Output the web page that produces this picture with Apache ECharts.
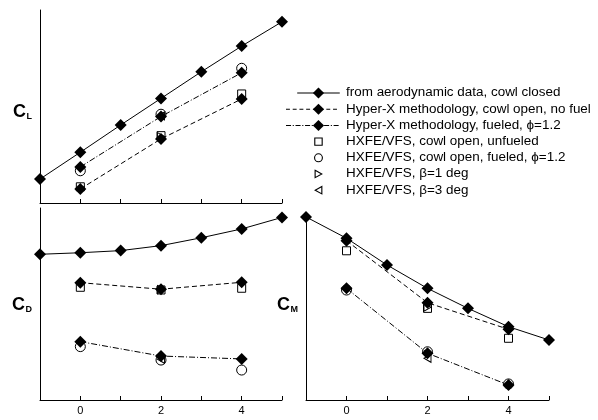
<!DOCTYPE html>
<html>
<head>
<meta charset="utf-8">
<script src="https://cdn.jsdelivr.net/npm/echarts@6/dist/echarts.min.js"></script>
<style>
  html, body { margin: 0; padding: 0; background: #fff; }
  #main { width: 598px; height: 420px; }
</style>
</head>
<body>
<div id="main"></div>
<script>
// angle of attack
var alphaAero = [-1, 0, 1, 2, 3, 4, 5];
var alphaRun = [0, 2, 4];
var alphaBeta = [2];

// lift (arbitrary units, no ticks on the original)
var clAero = [1.24, 2.63, 4.04, 5.42, 6.80, 8.13, 9.39];
var clNoFuel = [0.73, 3.32, 5.39];
var clFueled = [1.87, 4.48, 6.75];
var clHxUnf = [0.84, 3.49, 5.65];
var clHxFuel = [1.67, 4.60, 6.98];
var clBeta1 = [3.44];
var clBeta3 = [4.51];

// drag
var cdAero = [7.59, 7.67, 7.78, 8.04, 8.45, 8.91, 9.51];
var cdNoFuel = [6.11, 5.77, 6.13];
var cdFueled = [3.04, 2.29, 2.14];
var cdHxUnf = [5.87, 5.73, 5.82];
var cdHxFuel = [2.78, 2.08, 1.56];
var cdBeta1 = [5.75];
var cdBeta3 = [2.12];

// pitching moment
var cmAero = [9.79, 8.65, 7.22, 5.97, 4.90, 3.92, 3.21];
var cmNoFuel = [8.52, 5.20, 3.78];
var cmFueled = [5.97, 2.50, 0.80];
var cmHxUnf = [7.98, 4.90, 3.30];
var cmHxFuel = [5.88, 2.58, 0.86];
var cmBeta1 = [4.96];
var cmBeta3 = [2.23];

var legendLabels = [
  'from aerodynamic data, cowl closed',
  'Hyper-X methodology, cowl open, no fuel',
  'Hyper-X methodology, fueled, \u03d5=1.2',
  'HXFE/VFS, cowl open, unfueled',
  'HXFE/VFS, cowl open, fueled, \u03d5=1.2',
  'HXFE/VFS, \u03b2=1 deg',
  'HXFE/VFS, \u03b2=3 deg'
];

var FONT = '"Liberation Sans", Arial, sans-serif';
var DASH = [5, 3];
var DASHDOT = [6, 2, 1, 2];
var TRI_R = 'path://M0,0L10,5L0,10Z';
var TRI_L = 'path://M10,0L0,5L10,10Z';

function pairs(xs, ys) {
  return xs.map(function (x, i) { return [x, ys[i]]; });
}

function lineSeries(idx, xs, ys, dash) {
  return {
    type: 'line', xAxisIndex: idx, yAxisIndex: idx,
    data: pairs(xs, ys),
    symbol: 'diamond', symbolSize: [12, 12],
    clip: false,
    itemStyle: { color: '#000' },
    lineStyle: { color: '#000', width: 1, type: dash }
  };
}

function openSeries(idx, xs, ys, symbol, size) {
  return {
    type: 'scatter', xAxisIndex: idx, yAxisIndex: idx,
    data: pairs(xs, ys),
    symbol: symbol, symbolSize: size,
    clip: false,
    itemStyle: { color: '#fff', borderColor: '#000', borderWidth: 1, opacity: 1 }
  };
}

function panel(idx, aero, noFuel, fueled, hxUnf, hxFuel, b1, b3) {
  return [
    lineSeries(idx, alphaAero, aero, 'solid'),
    lineSeries(idx, alphaRun, noFuel, DASH),
    lineSeries(idx, alphaRun, fueled, DASHDOT),
    openSeries(idx, alphaRun, hxUnf, 'rect', [8, 8]),
    openSeries(idx, alphaRun, hxFuel, 'circle', 10),
    openSeries(idx, alphaBeta, b1, TRI_R, [7, 8]),
    openSeries(idx, alphaBeta, b3, TRI_L, [7, 8])
  ];
}

function xAxis(idx, labels) {
  return {
    type: 'value', gridIndex: idx, min: -1, max: 5, interval: 1,
    splitLine: { show: false },
    axisLine: { onZero: false, lineStyle: { color: '#000', width: 1 } },
    axisTick: { inside: true, length: 4, lineStyle: { color: '#000' } },
    axisLabel: {
      show: labels, color: '#000', fontFamily: FONT, fontSize: 11, margin: 5,
      formatter: function (v) { return (v === 0 || v === 2 || v === 4) ? v : ''; }
    },
    name: labels ? '\u03b1' : '', nameLocation: 'middle', nameGap: 11,
    nameTextStyle: { fontFamily: '"Liberation Serif", serif', fontStyle: 'italic', fontSize: 16, color: '#000' }
  };
}

function yAxis(idx) {
  return {
    type: 'value', gridIndex: idx, min: 0, max: 10,
    splitLine: { show: false },
    axisLine: { show: true, onZero: false, lineStyle: { color: '#000', width: 1 } },
    axisTick: { show: false },
    axisLabel: { show: false }
  };
}

// legend drawn as a slightly stretched group, as in the original figure
var LSX = 1.12;
var legendChildren = [];
var dashes = [null, [3.5, 2.5], [4.5, 1.5, 1, 1.5]];
legendLabels.forEach(function (txt, i) {
  var y = i * 16.2;
  var cx = 29;
  if (i < 3) {
    legendChildren.push({ type: 'line', shape: { x1: i === 0 ? 10 : 0, y1: y, x2: 48, y2: y },
      style: { stroke: '#000', lineWidth: 1, lineDash: dashes[i] } });
    legendChildren.push({ type: 'polygon', shape: { points: [[cx, y - 5.5], [cx + 5, y], [cx, y + 5.5], [cx - 5, y]] },
      style: { fill: '#000' } });
  } else if (i === 3) {
    legendChildren.push({ type: 'rect', shape: { x: cx - 3.3, y: y - 3.7, width: 6.6, height: 7.4 },
      style: { fill: '#fff', stroke: '#000', lineWidth: 1 } });
  } else if (i === 4) {
    legendChildren.push({ type: 'ellipse', shape: { cx: cx, cy: y, rx: 3.5, ry: 4 },
      style: { fill: '#fff', stroke: '#000', lineWidth: 1 } });
  } else if (i === 5) {
    legendChildren.push({ type: 'polygon', shape: { points: [[cx - 3, y - 3.7], [cx + 3, y], [cx - 3, y + 3.7]] },
      style: { fill: '#fff', stroke: '#000', lineWidth: 1 } });
  } else {
    legendChildren.push({ type: 'polygon', shape: { points: [[cx + 3, y - 3.7], [cx - 3, y], [cx + 3, y + 3.7]] },
      style: { fill: '#fff', stroke: '#000', lineWidth: 1 } });
  }
  legendChildren.push({ type: 'text', x: 53.6, y: y,
    style: { text: txt, font: '12px ' + FONT, fill: '#000', verticalAlign: 'middle' } });
});

function coefLabel(x, y, sub) {
  return [
    { type: 'text', x: x, y: y, style: { text: 'C', font: 'bold 18px ' + FONT, fill: '#000', verticalAlign: 'middle' } },
    { type: 'text', x: x + 13.5, y: y + 5, style: { text: sub, font: 'bold 9px ' + FONT, fill: '#000', verticalAlign: 'middle' } }
  ];
}

var chart = echarts.init(document.getElementById('main'));

var option = {
  animation: false,
  backgroundColor: '#fff',
  grid: [
    { left: 40, top: 10, width: 242, height: 193, outerBoundsMode: 'none' },
    { left: 40, top: 208, width: 242, height: 192, outerBoundsMode: 'none' },
    { left: 306, top: 213, width: 243, height: 187, outerBoundsMode: 'none' }
  ],
  xAxis: [xAxis(0, false), xAxis(1, true), xAxis(2, true)],
  yAxis: [yAxis(0), yAxis(1), yAxis(2)],
  graphic: [
    { type: 'group', x: 286, y: 93, scaleX: LSX, children: legendChildren }
  ].concat(coefLabel(13, 112, 'L'))
   .concat(coefLabel(12, 305, 'D'))
   .concat(coefLabel(277, 305, 'M')),
  series: []
    .concat(panel(0, clAero, clNoFuel, clFueled, clHxUnf, clHxFuel, clBeta1, clBeta3))
    .concat(panel(1, cdAero, cdNoFuel, cdFueled, cdHxUnf, cdHxFuel, cdBeta1, cdBeta3))
    .concat(panel(2, cmAero, cmNoFuel, cmFueled, cmHxUnf, cmHxFuel, cmBeta1, cmBeta3))
};

chart.setOption(option);
</script>
</body>
</html>
